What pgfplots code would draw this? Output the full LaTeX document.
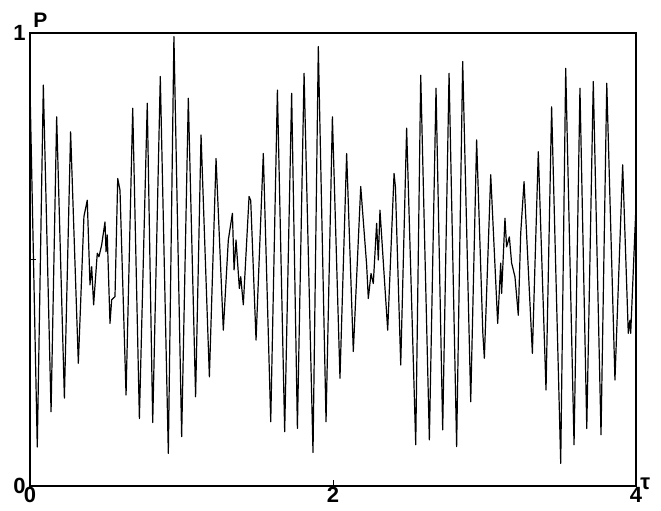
\documentclass[border=0pt]{standalone}
\usepackage{pgfplots}
\pgfplotsset{compat=1.18}
\usepackage{fontspec}
\setmainfont{Liberation Sans}
\begin{document}
\begin{tikzpicture}
\begin{axis}[name=ax, scale only axis, width=303pt, height=226.5pt,
  xmin=0, xmax=4, ymin=0, ymax=1,
  xtick={0,2,4}, xticklabels={0,2,4},
  ytick={0,0.5,1}, yticklabels={0,,1},
  xtick pos=bottom, ytick pos=left,
  tick align=inside, major tick length=3pt,
  tick style={black, line width=0.5pt},
  axis line style={black, line width=0.6pt},
  ticklabel style={font=\bfseries\fontsize{11}{11}\selectfont},
  xticklabel style={inner sep=0.5pt},
  yticklabel style={inner sep=2pt},
  clip=true]
\addplot[black, line width=0.6pt, line join=round] coordinates {
(0.000,0.880) (0.048,0.086) (0.088,0.885) (0.139,0.164) (0.176,0.815)
(0.227,0.194) (0.268,0.782) (0.319,0.271) (0.356,0.595) (0.378,0.631)
(0.396,0.444) (0.407,0.484) (0.420,0.400) (0.444,0.514) (0.455,0.506)
(0.473,0.532) (0.495,0.583) (0.502,0.517) (0.510,0.554) (0.528,0.359)
(0.539,0.411) (0.561,0.418) (0.579,0.679) (0.594,0.653) (0.634,0.201)
(0.678,0.834) (0.722,0.149) (0.774,0.845) (0.810,0.140) (0.860,0.904)
(0.913,0.072) (0.950,0.992) (1.001,0.109) (1.045,0.856) (1.093,0.197)
(1.129,0.775) (1.184,0.241) (1.228,0.723) (1.276,0.344) (1.309,0.543)
(1.336,0.602) (1.347,0.477) (1.360,0.543) (1.382,0.436) (1.391,0.462)
(1.408,0.400) (1.446,0.639) (1.457,0.630) (1.492,0.322) (1.540,0.734)
(1.589,0.142) (1.633,0.874) (1.681,0.120) (1.727,0.867) (1.765,0.127)
(1.809,0.911) (1.868,0.074) (1.903,0.970) (1.954,0.142) (1.996,0.815)
(2.046,0.238) (2.090,0.734) (2.134,0.297) (2.183,0.661) (2.222,0.488)
(2.233,0.414) (2.251,0.469) (2.266,0.447) (2.288,0.580) (2.299,0.499)
(2.310,0.609) (2.361,0.344) (2.403,0.690) (2.412,0.660) (2.447,0.267)
(2.486,0.790) (2.546,0.091) (2.579,0.907) (2.636,0.102) (2.680,0.878)
(2.724,0.124) (2.766,0.911) (2.816,0.087) (2.856,0.937) (2.909,0.186)
(2.948,0.764) (2.989,0.337) (2.999,0.282) (3.041,0.687) (3.087,0.359)
(3.107,0.492) (3.113,0.425) (3.135,0.591) (3.146,0.528) (3.164,0.550)
(3.179,0.492) (3.201,0.462) (3.223,0.377) (3.239,0.558) (3.261,0.672)
(3.316,0.293) (3.355,0.738) (3.406,0.212) (3.443,0.837) (3.503,0.050)
(3.536,0.922) (3.591,0.091) (3.630,0.878) (3.675,0.127) (3.718,0.893)
(3.769,0.113) (3.807,0.889) (3.861,0.234) (3.912,0.709) (3.949,0.337)
(3.960,0.366) (3.965,0.337) (4.000,0.620)
};
\end{axis}
\node[anchor=south west, inner sep=0pt, font=\bfseries\fontsize{10.5}{11}\selectfont] at ([shift={(1.5pt,2.5pt)}]ax.north west) {P};
\node[anchor=west, inner sep=0pt, font=\bfseries\fontsize{11}{11}\selectfont] at ([shift={(2pt,1pt)}]ax.south east) {τ};
\pgfresetboundingbox
\path[use as bounding box] ([shift={(-15pt,-12pt)}]ax.south west) rectangle ([shift={(12.5pt,16.5pt)}]ax.north east);
\end{tikzpicture}
\end{document}
